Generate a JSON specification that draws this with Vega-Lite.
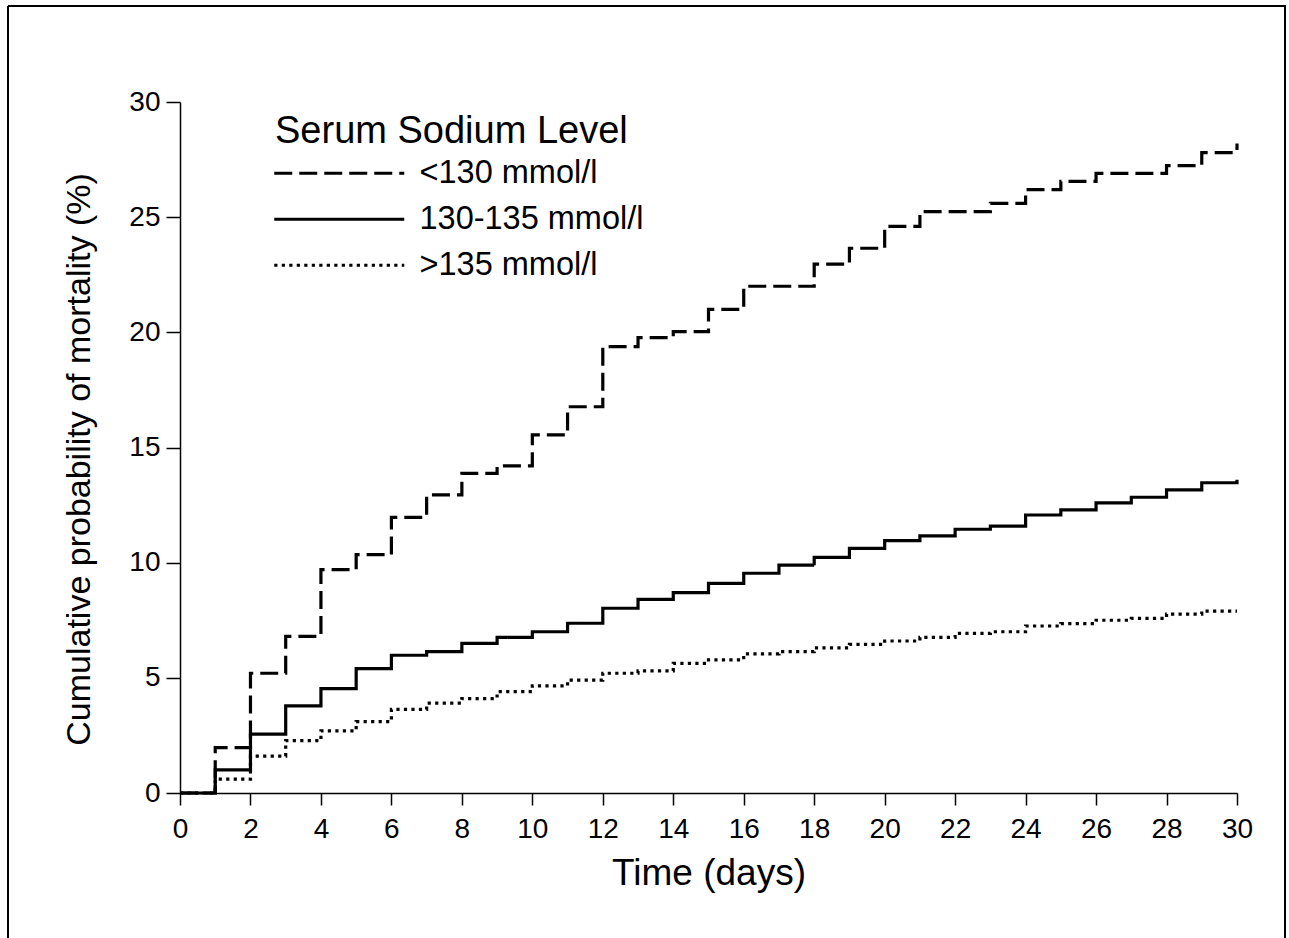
{
  "$schema": "https://vega.github.io/schema/vega-lite/v6.json",
  "width": 1277,
  "height": 932,
  "autosize": {"type": "none"},
  "padding": {"left": 8, "top": 6, "right": 4, "bottom": 0},
  "background": "white",
  "config": {"font": "Liberation Sans", "view": {"stroke": "black", "strokeWidth": 2, "strokeDash": [2209, 1277, 932, 0]}},
  "datasets": {
    "km": [
      {"group": "<130 mmol/l", "day": 0, "value": 0},
      {"group": "<130 mmol/l", "day": 1, "value": 1.97},
      {"group": "<130 mmol/l", "day": 2, "value": 5.2},
      {"group": "<130 mmol/l", "day": 3, "value": 6.8},
      {"group": "<130 mmol/l", "day": 4, "value": 9.7},
      {"group": "<130 mmol/l", "day": 5, "value": 10.35},
      {"group": "<130 mmol/l", "day": 6, "value": 11.97},
      {"group": "<130 mmol/l", "day": 7, "value": 12.94},
      {"group": "<130 mmol/l", "day": 8, "value": 13.88},
      {"group": "<130 mmol/l", "day": 9, "value": 14.2},
      {"group": "<130 mmol/l", "day": 10, "value": 15.55},
      {"group": "<130 mmol/l", "day": 11, "value": 16.77},
      {"group": "<130 mmol/l", "day": 12, "value": 19.38},
      {"group": "<130 mmol/l", "day": 13, "value": 19.77},
      {"group": "<130 mmol/l", "day": 14, "value": 20.03},
      {"group": "<130 mmol/l", "day": 15, "value": 21.0},
      {"group": "<130 mmol/l", "day": 16, "value": 22.0},
      {"group": "<130 mmol/l", "day": 17, "value": 22.0},
      {"group": "<130 mmol/l", "day": 18, "value": 22.96},
      {"group": "<130 mmol/l", "day": 19, "value": 23.65},
      {"group": "<130 mmol/l", "day": 20, "value": 24.6},
      {"group": "<130 mmol/l", "day": 21, "value": 25.24},
      {"group": "<130 mmol/l", "day": 22, "value": 25.24},
      {"group": "<130 mmol/l", "day": 23, "value": 25.6},
      {"group": "<130 mmol/l", "day": 24, "value": 26.2},
      {"group": "<130 mmol/l", "day": 25, "value": 26.55},
      {"group": "<130 mmol/l", "day": 26, "value": 26.9},
      {"group": "<130 mmol/l", "day": 27, "value": 26.9},
      {"group": "<130 mmol/l", "day": 28, "value": 27.24},
      {"group": "<130 mmol/l", "day": 29, "value": 27.8},
      {"group": "<130 mmol/l", "day": 30, "value": 28.2},
      {"group": "130-135 mmol/l", "day": 0, "value": 0},
      {"group": "130-135 mmol/l", "day": 1, "value": 1.0},
      {"group": "130-135 mmol/l", "day": 2, "value": 2.56},
      {"group": "130-135 mmol/l", "day": 3, "value": 3.78},
      {"group": "130-135 mmol/l", "day": 4, "value": 4.53},
      {"group": "130-135 mmol/l", "day": 5, "value": 5.4},
      {"group": "130-135 mmol/l", "day": 6, "value": 5.98},
      {"group": "130-135 mmol/l", "day": 7, "value": 6.14},
      {"group": "130-135 mmol/l", "day": 8, "value": 6.5},
      {"group": "130-135 mmol/l", "day": 9, "value": 6.76},
      {"group": "130-135 mmol/l", "day": 10, "value": 7.0},
      {"group": "130-135 mmol/l", "day": 11, "value": 7.37},
      {"group": "130-135 mmol/l", "day": 12, "value": 8.02},
      {"group": "130-135 mmol/l", "day": 13, "value": 8.41},
      {"group": "130-135 mmol/l", "day": 14, "value": 8.7},
      {"group": "130-135 mmol/l", "day": 15, "value": 9.1},
      {"group": "130-135 mmol/l", "day": 16, "value": 9.54},
      {"group": "130-135 mmol/l", "day": 17, "value": 9.89},
      {"group": "130-135 mmol/l", "day": 18, "value": 10.23},
      {"group": "130-135 mmol/l", "day": 19, "value": 10.62},
      {"group": "130-135 mmol/l", "day": 20, "value": 10.96},
      {"group": "130-135 mmol/l", "day": 21, "value": 11.16},
      {"group": "130-135 mmol/l", "day": 22, "value": 11.45},
      {"group": "130-135 mmol/l", "day": 23, "value": 11.59},
      {"group": "130-135 mmol/l", "day": 24, "value": 12.07},
      {"group": "130-135 mmol/l", "day": 25, "value": 12.29},
      {"group": "130-135 mmol/l", "day": 26, "value": 12.6},
      {"group": "130-135 mmol/l", "day": 27, "value": 12.84},
      {"group": "130-135 mmol/l", "day": 28, "value": 13.16},
      {"group": "130-135 mmol/l", "day": 29, "value": 13.47},
      {"group": "130-135 mmol/l", "day": 30, "value": 13.6},
      {"group": ">135 mmol/l", "day": 0, "value": 0},
      {"group": ">135 mmol/l", "day": 1, "value": 0.6},
      {"group": ">135 mmol/l", "day": 2, "value": 1.6},
      {"group": ">135 mmol/l", "day": 3, "value": 2.27},
      {"group": ">135 mmol/l", "day": 4, "value": 2.7},
      {"group": ">135 mmol/l", "day": 5, "value": 3.1},
      {"group": ">135 mmol/l", "day": 6, "value": 3.63},
      {"group": ">135 mmol/l", "day": 7, "value": 3.9},
      {"group": ">135 mmol/l", "day": 8, "value": 4.1},
      {"group": ">135 mmol/l", "day": 9, "value": 4.4},
      {"group": ">135 mmol/l", "day": 10, "value": 4.65},
      {"group": ">135 mmol/l", "day": 11, "value": 4.9},
      {"group": ">135 mmol/l", "day": 12, "value": 5.2},
      {"group": ">135 mmol/l", "day": 13, "value": 5.3},
      {"group": ">135 mmol/l", "day": 14, "value": 5.63},
      {"group": ">135 mmol/l", "day": 15, "value": 5.78},
      {"group": ">135 mmol/l", "day": 16, "value": 6.04},
      {"group": ">135 mmol/l", "day": 17, "value": 6.14},
      {"group": ">135 mmol/l", "day": 18, "value": 6.3},
      {"group": ">135 mmol/l", "day": 19, "value": 6.45},
      {"group": ">135 mmol/l", "day": 20, "value": 6.6},
      {"group": ">135 mmol/l", "day": 21, "value": 6.76},
      {"group": ">135 mmol/l", "day": 22, "value": 6.93},
      {"group": ">135 mmol/l", "day": 23, "value": 7.0},
      {"group": ">135 mmol/l", "day": 24, "value": 7.25},
      {"group": ">135 mmol/l", "day": 25, "value": 7.35},
      {"group": ">135 mmol/l", "day": 26, "value": 7.5},
      {"group": ">135 mmol/l", "day": 27, "value": 7.58},
      {"group": ">135 mmol/l", "day": 28, "value": 7.77},
      {"group": ">135 mmol/l", "day": 29, "value": 7.9},
      {"group": ">135 mmol/l", "day": 30, "value": 7.9}
    ]
  },
  "data": {"name": "km"},
  "mark": {"type": "line", "interpolate": "step-after", "strokeWidth": 3.2, "color": "black", "strokeCap": "butt"},
  "encoding": {
    "x": {
      "field": "day", "type": "quantitative",
      "scale": {"domain": [0, 30], "range": [172, 1229], "nice": false, "zero": false},
      "axis": {
        "orient": "bottom", "offset": -145, "grid": false,
        "values": [0, 2, 4, 6, 8, 10, 12, 14, 16, 18, 20, 22, 24, 26, 28, 30],
        "title": "Time (days)", "titleFontSize": 37, "titleFontWeight": "normal", "titleColor": "black", "titlePadding": 12,
        "labelFontSize": 28, "labelColor": "black", "labelPadding": 10, "labelFlush": false,
        "tickSize": 12, "tickWidth": 1.5, "tickColor": "black", "domainWidth": 1.5, "domainColor": "black"
      }
    },
    "y": {
      "field": "value", "type": "quantitative",
      "scale": {"domain": [0, 30], "range": [787, 96], "nice": false, "zero": false},
      "axis": {
        "orient": "left", "offset": -172, "grid": false,
        "values": [0, 5, 10, 15, 20, 25, 30],
        "title": "Cumulative probability of mortality (%)", "titleFontSize": 34, "titleFontWeight": "normal", "titleColor": "black", "titlePadding": 32, "titleY": 453,
        "labelFontSize": 28, "labelColor": "black", "labelPadding": 6, "labelFlush": false,
        "tickSize": 14, "tickWidth": 1.5, "tickColor": "black", "domainWidth": 1.5, "domainColor": "black"
      }
    },
    "strokeDash": {
      "field": "group", "type": "nominal",
      "scale": {"domain": ["<130 mmol/l", "130-135 mmol/l", ">135 mmol/l"], "range": [[18, 7], [1, 0], [3.2, 4.3]]},
      "legend": {
        "orient": "none", "legendX": 267, "legendY": 107, "padding": 0,
        "title": "Serum Sodium Level", "titleFontSize": 38, "titleFontWeight": "normal", "titleColor": "black", "titlePadding": 6, "titleLimit": 0,
        "labelFontSize": 32.5, "labelColor": "black", "labelOffset": 112, "labelLimit": 0,
        "symbolType": "M-1.7,0L11.3,0", "symbolSize": 400, "symbolStrokeWidth": 3, "symbolStrokeColor": "black", "symbolFillColor": "transparent",
        "rowPadding": 13
      }
    }
  }
}
